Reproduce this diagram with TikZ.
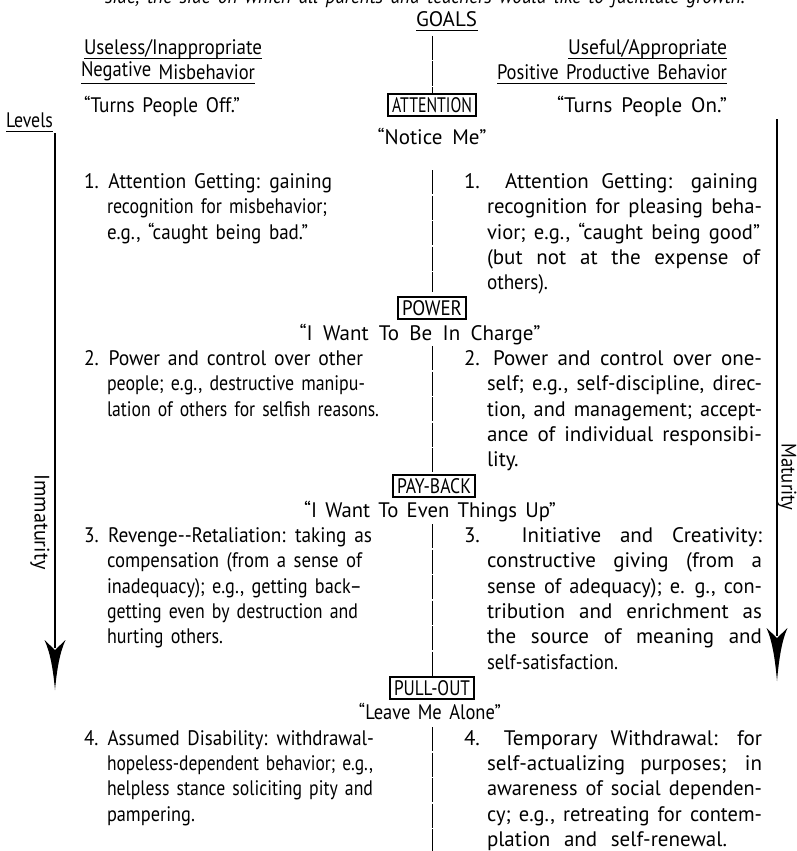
\documentclass[tikz,border=0pt]{standalone}
\usepackage{graphicx}
\usepackage{fontspec}
\setmainfont{PT Sans}[WordSpace=1.5]
\newsavebox\lnbox
\newcommand\fitln[2]{\sbox\lnbox{#2}\ifdim\wd\lnbox>#1pt\resizebox{#1pt}{\height}{\usebox\lnbox}\else\makebox[#1pt][s]{#2}\fi}
\begin{document}
\begin{tikzpicture}[x=1pt,y=-1pt,
  every node/.style={inner sep=0pt,outer sep=0pt,font=\fontsize{21}{24}\selectfont},
  ln/.style={anchor=base west},
  lnr/.style={anchor=base east},
  ctr/.style={anchor=base},
  lbl/.style={draw,line width=1.3pt,inner xsep=4pt,inner ysep=3.5pt},
  rul/.style={line width=1pt},
  stem/.style={line width=1.4pt},
  divider/.style={line width=0.8pt,dash pattern=on 24pt off 1.5pt}]
\clip (0,0) rectangle (797,851);
% cut-off top line
\node[ln] (topline) at (105,4) {\fitln{640}{\itshape side, the side on which all parents and teachers would like to facilitate growth.}};
% headers
\node[ctr] (goals) at (447,27) {\fitln{62}{GOALS}};
\draw[rul] ([yshift=-4pt]goals.base west) -- ([yshift=-4pt]goals.base east);
\node[ln] (h1) at (84,55) {\fitln{178}{Useless/Inappropriate}};
\draw[rul] ([yshift=-4pt]h1.base west) -- ([yshift=-4pt]h1.base east);
\node[ln] (h2) at (81,79) {\fitln{174}{\raisebox{2pt}{Negative} Misbehavior}};
\draw[rul] ([yshift=-4pt]h2.base west) -- ([yshift=-4pt]h2.base east);
\node[ln] (h3) at (84,112) {\fitln{156}{“Turns People Off.”}};
\node[lnr] (g1) at (727,55) {\fitln{159}{Useful/Appropriate}};
\draw[rul] ([yshift=-4pt]g1.base west) -- ([yshift=-4pt]g1.base east);
\node[lnr] (g2) at (727,79) {\fitln{230}{Positive Productive Behavior}};
\draw[rul] ([yshift=-4pt]g2.base west) -- ([yshift=-4pt]g2.base east);
\node[lnr] (g3) at (727,112) {\fitln{170}{“Turns People On.”}};
\node[ln] (levels) at (6,127) {\fitln{47}{Levels}};
\draw[rul] ([yshift=-4pt]levels.base west) -- ([yshift=-4pt]levels.base east);
% side arrows
\coordinate (ltop) at (55,133);
\coordinate (lend) at (55,648);
\draw[stem] (ltop) -- (lend);
\fill (44.5,640) .. controls (50,652) and (53,668) .. (55,690) .. controls (57,668) and (60,652) .. (65.5,640) -- (55,650) -- cycle;
\coordinate (rtop) at (777,119);
\coordinate (rend) at (777,636);
\draw[stem] (rtop) -- (rend);
\fill (766.5,628) .. controls (772,640) and (775,658) .. (777,681) .. controls (779,658) and (782,640) .. (787.5,628) -- (777,638) -- cycle;
\node[rotate=-90] (immat) at (40,522) {\fitln{95}{Immaturity}};
\node[rotate=-90] (matur) at (787,477) {\fitln{67}{Maturity}};
% section labels
\node[lbl] (attn) at (432,105) {\fitln{80}{ATTENTION}};
\node[ctr] (l1) at (432,144) {\fitln{109}{“Notice Me”}};
\node[lbl] (power) at (432,308) {\fitln{60}{POWER}};
\node[ctr] (l2) at (420,340) {\fitln{241}{“I Want To Be In Charge”}};
\node[lbl] (payback) at (434,486) {\fitln{74}{PAY-BACK}};
\node[ctr] (l3) at (430,517) {\fitln{252}{“I Want To Even Things Up”}};
\node[lbl] (pullout) at (432,688) {\fitln{76}{PULL-OUT}};
\node[ctr] (l4) at (430,719) {\fitln{142}{“Leave Me Alone”}};
% centre divider
\draw[divider] (432,36) -- (attn.north);
\draw[divider] (432,170) -- (432,292);
\draw[divider] (432,346) -- (432,472);
\draw[divider] (432,524) -- (432,676);
\draw[divider] (432,727) -- (432,851);
% item 1
\node[ln] (a1) at (84,188) {\fitln{248}{1. Attention Getting: gaining}};
\node[ln] (a2) at (107,213) {\fitln{220}{recognition for misbehavior;}};
\node[ln] (a3) at (107,239) {\fitln{201}{e.g., “caught being bad.”}};
\node[ln] (b1) at (464,188) {\fitln{294}{1.\ \ Attention Getting: gaining}};
\node[ln] (b2) at (487,213) {\fitln{275}{recognition for pleasing beha-}};
\node[ln] (b3) at (487,239) {\fitln{273}{vior; e.g., “caught being good”}};
\node[ln] (b4) at (487,264) {\fitln{273}{(but not at the expense of}};
\node[ln] (b5) at (487,289) {\fitln{61}{others).}};
% item 2
\node[ln] (c1) at (84,365) {\fitln{279}{2. Power and control over other}};
\node[ln] (c2) at (107,390) {\fitln{258}{people; e.g., destructive manipu-}};
\node[ln] (c3) at (107,416) {\fitln{272}{lation of others for selfish reasons.}};
\node[ln] (d1) at (464,365) {\fitln{298}{2. Power and control over one-}};
\node[ln] (d2) at (487,390) {\fitln{275}{self; e.g., self-discipline, direc-}};
\node[ln] (d3) at (487,416) {\fitln{275}{tion, and management; accept-}};
\node[ln] (d4) at (487,441) {\fitln{275}{ance of individual responsibi-}};
\node[ln] (d5) at (487,466) {\fitln{35}{lity.}};
% item 3
\node[ln] (e1) at (84,542) {\fitln{288}{3. Revenge-{}-Retaliation: taking as}};
\node[ln] (e2) at (107,567) {\fitln{255}{compensation (from a sense of}};
\node[ln] (e3) at (107,593) {\fitln{255}{inadequacy); e.g., getting back–}};
\node[ln] (e4) at (107,618) {\fitln{251}{getting even by destruction and}};
\node[ln] (e5) at (107,643) {\fitln{116}{hurting others.}};
\node[ln] (f1) at (464,542) {\fitln{298}{3. Initiative and Creativity:}};
\node[ln] (f2) at (487,567) {\fitln{275}{constructive giving (from a}};
\node[ln] (f3) at (487,593) {\fitln{275}{sense of adequacy); e. g., con-}};
\node[ln] (f4) at (487,618) {\fitln{275}{tribution and enrichment as}};
\node[ln] (f5) at (487,643) {\fitln{275}{the source of meaning and}};
\node[ln] (f6) at (487,669) {\fitln{131}{self-satisfaction.}};
% item 4
\node[ln] (g41) at (84,745) {\fitln{290}{4. Assumed Disability: withdrawal-}};
\node[ln] (g42) at (107,770) {\fitln{266}{hopeless-dependent behavior; e.g.,}};
\node[ln] (g43) at (107,795) {\fitln{266}{helpless stance soliciting pity and}};
\node[ln] (g44) at (107,821) {\fitln{88}{pampering.}};
\node[ln] (k1) at (464,745) {\fitln{298}{4. Temporary Withdrawal: for}};
\node[ln] (k2) at (487,770) {\fitln{275}{self-actualizing purposes; in}};
\node[ln] (k3) at (487,795) {\fitln{275}{awareness of social dependen-}};
\node[ln] (k4) at (487,821) {\fitln{275}{cy; e.g., retreating for contem-}};
\node[ln] (k5) at (487,846) {\fitln{240}{plation and self-renewal.}};
\end{tikzpicture}
\end{document}
